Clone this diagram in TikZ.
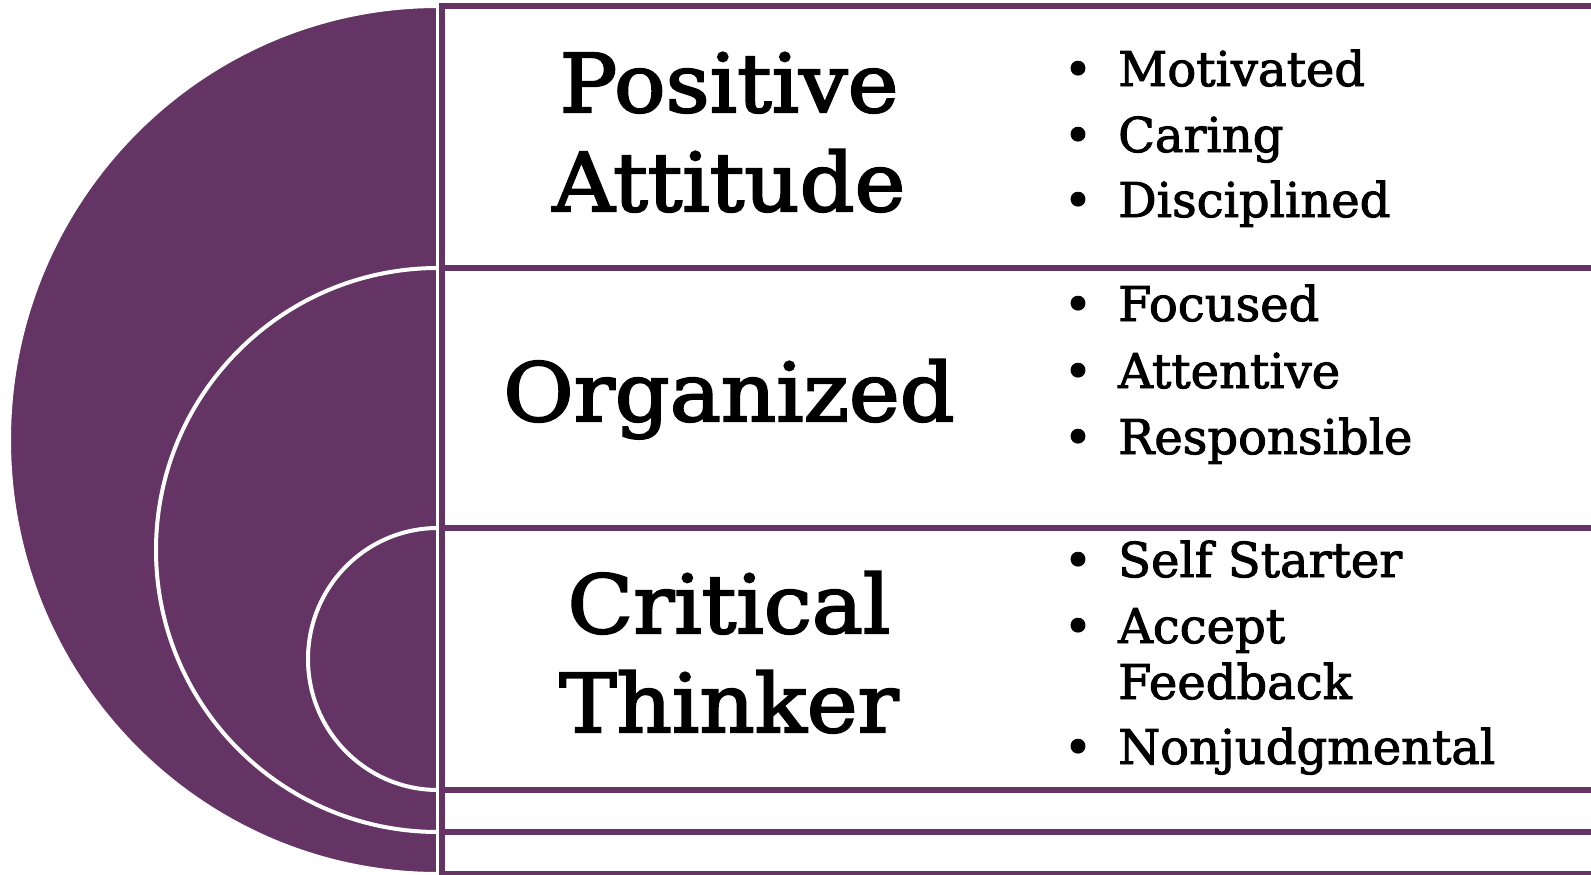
\documentclass[tikz,border=0pt]{standalone}
\usepackage{fontspec}
\setmainfont{DejaVu Serif}
\newfontfamily\titlefont{DejaVu Serif}[FakeBold=2.5, FakeStretch=1.06]
\newfontfamily\itemfont{DejaVu Serif}[FakeBold=2]
\definecolor{plum}{RGB}{100,52,100}
\tikzset{
  disc/.style={fill=plum, draw=white, line width=4pt},
  band/.style={fill=white, draw=plum, line width=6pt},
  title/.style={font=\titlefont\fontsize{81}{98}\selectfont, align=center, text=black, anchor=base, inner sep=0pt},
  item/.style={font=\itemfont\fontsize{48}{56}\selectfont, anchor=base west, inner sep=0pt, text=black},
  dot/.style={font=\itemfont\fontsize{48}{56}\selectfont, anchor=base, inner sep=0pt, text=black}
}
\begin{document}
\begin{tikzpicture}[x=1pt,y=-1pt]
\useasboundingbox (0,0) rectangle (1591,875);
\begin{scope}
\clip (0,0) rectangle (1591,875);
\path[disc] (438,6) arc[start angle=-90, end angle=-270, x radius=429, y radius=434] -- cycle;
\path[band] (442,6) rectangle (1640,874);
\path[disc] (438,268) arc[start angle=-90, end angle=-270, x radius=282, y radius=282] -- cycle;
\path[band] (442,268) rectangle (1640,832);
\path[disc] (438,528) arc[start angle=-90, end angle=-270, x radius=130, y radius=131] -- cycle;
\path[band] (442,528) rectangle (1640,790);
\end{scope}
% titles
\node[title] (pa1) at (729,112) {Positive};
\node[title] (pa2) at (729,211) {Attitude};
\node[title] (org) at (729,421) {Organized};
\node[title] (ct1) at (729,633) {Critical};
\node[title] (ct2) at (729,732) {Thinker};
% bullets
\foreach \n/\y/\t in {b1/86/Motivated, b2/152/Caring, b3/217/Disciplined,
  b4/321/Focused, b5/388/Attentive, b6/454/Responsible,
  b7/577/Self Starter, b8/643/Accept, b10/764/Nonjudgmental}{
  \node[dot] (d\n) at (1078,\y) {•};
  \node[item] (\n) at (1118,\y) {\t};
}
\node[item] (b9) at (1118,699) {Feedback};
\end{tikzpicture}
\end{document}
